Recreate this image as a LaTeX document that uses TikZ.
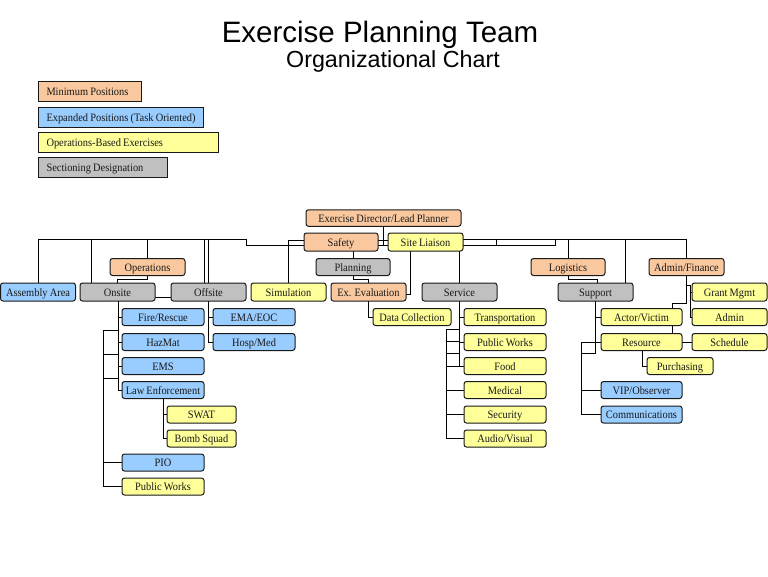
\documentclass[tikz,border=0pt]{standalone}
\usepackage{fontspec}
\setmainfont{Liberation Serif}
\newfontfamily\boxfont[FakeStretch=0.92,WordSpace=0.85]{Liberation Serif}
\newfontfamily\titlefont{Liberation Sans}
\definecolor{cmin}{RGB}{250,200,158}
\definecolor{cexp}{RGB}{153,204,255}
\definecolor{cops}{RGB}{255,255,153}
\definecolor{csec}{RGB}{192,192,192}
\definecolor{edge}{RGB}{25,25,25}
\tikzset{
  org/.style={draw=edge, line width=1pt, rounded corners=2.5pt, minimum height=17pt,
    inner sep=0pt, text height=8.5pt, text depth=0pt,
    font=\boxfont\fontsize{11.3}{13}\selectfont, text=black!90},
  bw/.style={minimum width=#1},
  leg/.style={draw=edge, line width=1pt, minimum height=20pt, anchor=west, inner xsep=8pt,
    inner ysep=0pt, text height=8.5pt, text depth=0pt,
    font=\boxfont\fontsize{11.3}{13}\selectfont, text=black!90},
  conn/.style={draw=black, line width=1pt},
}
\begin{document}
\begin{tikzpicture}[x=1pt,y=-1pt]
\useasboundingbox (0,0) rectangle (768,576);
% title
\node[anchor=base, font=\titlefont\fontsize{29.5}{32}\selectfont] (t1) at (380,42) {Exercise Planning Team};
\node[anchor=base, font=\titlefont\fontsize{23.3}{26}\selectfont] (t2) at (393,67) {Organizational Chart};
% legend
\node[leg, fill=cmin] (l1) at (38,91) {\makebox[87pt][l]{Minimum Positions}};
\node[leg, fill=cexp] (l2) at (38,117) {\makebox[149pt][l]{Expanded Positions (Task Oriented)}};
\node[leg, fill=cops] (l3) at (38,142) {\makebox[164pt][l]{Operations-Based Exercises}};
\node[leg, fill=csec] (l4) at (38,167.5) {\makebox[113pt][l]{Sectioning Designation}};

\begin{scope}
% director / safety / liaison
\draw[conn] (383.5,226) -- (383.5,246);
\draw[conn] (378,240) -- (388,240);
\draw[conn] (378,245) -- (388,245);
% left bus
\draw[conn] (38,283) -- (38,239) -- (246,239) -- (246,245) -- (304,245);
\draw[conn] (91,239) -- (91,283);
\draw[conn] (147.5,239) -- (147.5,259);
\draw[conn] (204,239) -- (204,283);
\draw[conn] (208,239) -- (208,283);
\draw[conn] (288.5,283) -- (288.5,240) -- (304,240);
% operations
\draw[conn] (147.5,275) -- (147.5,279.5) -- (117.5,279.5) -- (117.5,283);
\draw[conn] (155,297) -- (171,297);
% onsite subtree
\draw[conn] (118,301) -- (118,390) -- (122,390);
\draw[conn] (118,317) -- (122,317);
\draw[conn] (118,342) -- (122,342);
\draw[conn] (118,366) -- (122,366);
\draw[conn] (118,330) -- (103,330) -- (103,486.5) -- (122,486.5);
\draw[conn] (103,354) -- (118,354);
\draw[conn] (103,378) -- (118,378);
\draw[conn] (103,462.5) -- (122,462.5);
\draw[conn] (163,398) -- (163,438.5) -- (167,438.5);
\draw[conn] (163,414.5) -- (167,414.5);
% offsite subtree
\draw[conn] (208.5,301) -- (208.5,342) -- (213,342);
\draw[conn] (208.5,317) -- (213,317);
% planning
\draw[conn] (353,251) -- (353,259);
\draw[conn] (353,275) -- (353,279.5) -- (368.5,279.5) -- (368.5,283);
\draw[conn] (410,251) -- (410,294) -- (406,294);
\draw[conn] (459.5,251) -- (459.5,283);
\draw[conn] (368.5,301) -- (368.5,317) -- (373,317);
% right bus
\draw[conn] (463,239) -- (686.5,239) -- (686.5,259);
\draw[conn] (463,245) -- (555,245) -- (555,239);
\draw[conn] (496,239) -- (496,245);
\draw[conn] (568,239) -- (568,259);
\draw[conn] (625,239) -- (625,283);
\draw[conn] (568,275) -- (568,279.5) -- (597,279.5) -- (597,283);
% service subtree
\draw[conn] (459.5,301) -- (459.5,366) -- (464,366);
\draw[conn] (459.5,317) -- (464,317);
\draw[conn] (459.5,342) -- (464,342);
\draw[conn] (459.5,329) -- (446,329) -- (446,438.5) -- (464,438.5);
\draw[conn] (446,341) -- (459.5,341);
\draw[conn] (446,353) -- (459.5,353);
\draw[conn] (446,366) -- (459.5,366);
\draw[conn] (446,390) -- (464,390);
\draw[conn] (446,414.5) -- (464,414.5);
% support subtree
\draw[conn] (595.5,301) -- (595.5,353) -- (581,353);
\draw[conn] (595.5,317) -- (601,317);
\draw[conn] (581,342) -- (601,342);
\draw[conn] (581,342) -- (581,414.5) -- (601,414.5);
\draw[conn] (581,390) -- (601,390);
% admin/finance subtree
\draw[conn] (686.5,275) -- (686.5,303) -- (672,303) -- (672,309);
\draw[conn] (672,325) -- (672,334);
\draw[conn] (686.5,285) -- (690,285) -- (690,317) -- (692,317);
\draw[conn] (690,292) -- (692,292);
\draw[conn] (682,342) -- (692,342);
\draw[conn] (642,350) -- (642,366) -- (647,366);
\end{scope}

% row 0-2
\node[org, fill=cmin, bw=155pt, minimum height=16.5pt] (dir) at (383.5,218) {Exercise Director/Lead Planner};
\node[org, fill=cmin, bw=74pt, minimum height=18pt] (safety) at (341,242) {Safety};
\node[org, fill=cops, bw=75pt, minimum height=18pt] (liaison) at (425.5,242) {Site Liaison};
\node[org, fill=cmin, bw=75pt] (ops) at (147.5,267) {Operations};
\node[org, fill=csec, bw=74pt] (plan) at (353,267) {Planning};
\node[org, fill=cmin, bw=74pt] (log) at (568,267) {Logistics};
\node[org, fill=cmin, bw=75pt] (adm) at (686.5,267) {Admin/Finance};
% row 3
\node[org, fill=cexp, bw=75pt, minimum height=18pt] (asm) at (38,292) {Assembly Area};
\node[org, fill=csec, bw=75pt, minimum height=18pt] (onsite) at (117.5,292) {Onsite};
\node[org, fill=csec, bw=75pt, minimum height=18pt] (offsite) at (208.5,292) {Offsite};
\node[org, fill=cops, bw=75pt, minimum height=18pt] (sim) at (288.5,292) {Simulation};
\node[org, fill=cmin, bw=75pt, minimum height=18pt] (exev) at (368.5,292) {Ex. Evaluation};
\node[org, fill=csec, bw=75pt, minimum height=18pt] (service) at (459.5,292) {Service};
\node[org, fill=csec, bw=75pt, minimum height=18pt] (support) at (595.5,292) {Support};
\node[org, fill=cops, bw=75pt, minimum height=18pt] (grant) at (729.5,292) {Grant Mgmt};
% row 4
\node[org, fill=cexp, bw=82pt] (fire) at (163,317) {Fire/Rescue};
\node[org, fill=cexp, bw=82pt] (ema) at (254,317) {EMA/EOC};
\node[org, fill=cops, bw=78pt] (datac) at (412,317) {Data Collection};
\node[org, fill=cops, bw=82pt] (transp) at (505,317) {Transportation};
\node[org, fill=cops, bw=81pt] (actor) at (641.5,317) {Actor/Victim};
\node[org, fill=cops, bw=75pt] (admin) at (729.5,317) {Admin};
% row 5
\node[org, fill=cexp, bw=82pt] (hazmat) at (163,342) {HazMat};
\node[org, fill=cexp, bw=82pt] (hosp) at (254,342) {Hosp/Med};
\node[org, fill=cops, bw=82pt] (pubw2) at (505,342) {Public Works};
\node[org, fill=cops, bw=81pt] (resource) at (641.5,342) {Resource};
\node[org, fill=cops, bw=75pt] (sched) at (729.5,342) {Schedule};
% row 6
\node[org, fill=cexp, bw=82pt] (ems) at (163,366) {EMS};
\node[org, fill=cops, bw=82pt] (food) at (505,366) {Food};
\node[org, fill=cops, bw=66pt] (purch) at (680,366) {Purchasing};
% row 7
\node[org, fill=cexp, bw=82pt] (law) at (163,390) {Law Enforcement};
\node[org, fill=cops, bw=82pt] (medical) at (505,390) {Medical};
\node[org, fill=cexp, bw=81pt] (vip) at (641.5,390) {VIP/Observer};
% row 8-11
\node[org, fill=cops, bw=69pt] (swat) at (201.5,414.5) {SWAT};
\node[org, fill=cops, bw=82pt] (security) at (505,414.5) {Security};
\node[org, fill=cexp, bw=81pt] (comm) at (641.5,414.5) {Communications};
\node[org, fill=cops, bw=69pt] (bomb) at (201.5,438.5) {Bomb Squad};
\node[org, fill=cops, bw=82pt] (av) at (505,438.5) {Audio/Visual};
\node[org, fill=cexp, bw=82pt] (pio) at (163,462.5) {PIO};
\node[org, fill=cops, bw=82pt] (pubw1) at (163,486.5) {Public Works};
\end{tikzpicture}
\end{document}
